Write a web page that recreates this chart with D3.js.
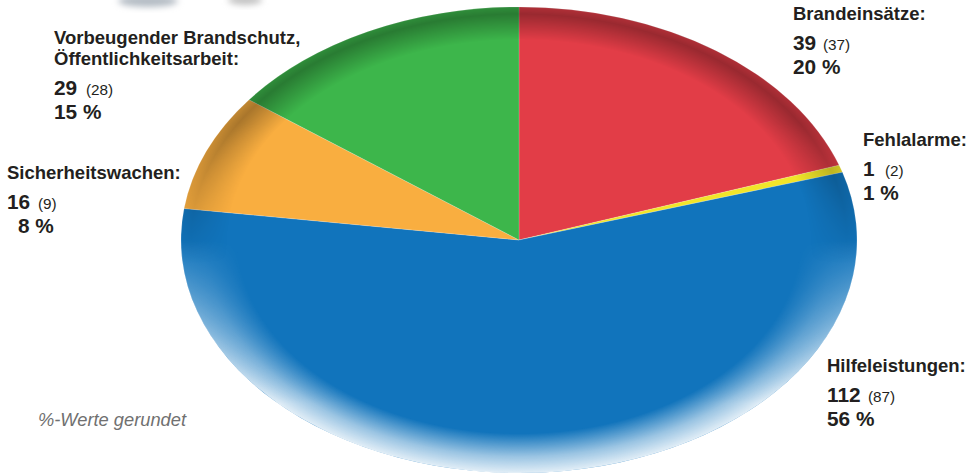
<!DOCTYPE html>
<html><head><meta charset="utf-8">
<script src="https://cdn.jsdelivr.net/npm/d3@7"></script>
<style>
html,body{margin:0;padding:0;background:#fff;}
svg{display:block;}
text{font-family:"Liberation Sans",Arial,Helvetica,sans-serif;}
</style></head>
<body>
<svg id="chart" width="978" height="473"></svg>
<script>
// ---- data ----
const categories = ["Brandeinsätze:", "Fehlalarme:", "Hilfeleistungen:", "Sicherheitswachen:", "Vorbeugender Brandschutz,|Öffentlichkeitsarbeit:"];
const values = [39, 1, 112, 16, 29];
const previous = [37, 2, 87, 9, 28];
const percents = ["20 %", "1 %", "56 %", "8 %", "15 %"];
const colors = ["#e23d47", "#f1e52a", "#1174bc", "#f9ae40", "#3db64b"];
const note = "%-Werte gerundet";

// ---- layout ----
const W = 978, H = 473;
const cx = 519, cy = 240, rx = 338, ry = 233;
const svg = d3.select("#chart");
const defs = svg.append("defs");

const blur = defs.append("filter").attr("id", "blur").attr("x", "-50%").attr("y", "-50%").attr("width", "200%").attr("height", "200%");
blur.append("feGaussianBlur").attr("stdDeviation", 3);

const dark = defs.append("radialGradient").attr("id", "darkRim");
dark.append("stop").attr("offset", 0.86).attr("stop-color", "#000").attr("stop-opacity", 0);
dark.append("stop").attr("offset", 0.97).attr("stop-color", "#000").attr("stop-opacity", 0.32);
dark.append("stop").attr("offset", 1).attr("stop-color", "#000").attr("stop-opacity", 0.22);

const light = defs.append("radialGradient").attr("id", "lightRim");
light.append("stop").attr("offset", 0.83).attr("stop-color", "#fff").attr("stop-opacity", 0);
light.append("stop").attr("offset", 0.93).attr("stop-color", "#fff").attr("stop-opacity", 0.58);
light.append("stop").attr("offset", 1).attr("stop-color", "#fff").attr("stop-opacity", 0.88);

const topMaskG = defs.append("linearGradient").attr("id", "topMaskG").attr("x1", 0).attr("y1", 0).attr("x2", 0).attr("y2", 1);
topMaskG.append("stop").attr("offset", 0).attr("stop-color", "#fff");
topMaskG.append("stop").attr("offset", 0.25).attr("stop-color", "#fff");
topMaskG.append("stop").attr("offset", 0.55).attr("stop-color", "#000");
const botMaskG = defs.append("linearGradient").attr("id", "botMaskG").attr("x1", 0).attr("y1", 0).attr("x2", 0).attr("y2", 1);
botMaskG.append("stop").attr("offset", 0.5).attr("stop-color", "#000");
botMaskG.append("stop").attr("offset", 0.85).attr("stop-color", "#fff");
botMaskG.append("stop").attr("offset", 1).attr("stop-color", "#fff");

defs.append("mask").attr("id", "topMask")
  .append("rect").attr("x", -rx).attr("y", -rx).attr("width", 2 * rx).attr("height", 2 * rx).attr("fill", "url(#topMaskG)");
defs.append("mask").attr("id", "botMask")
  .append("rect").attr("x", -rx).attr("y", -rx).attr("width", 2 * rx).attr("height", 2 * rx).attr("fill", "url(#botMaskG)");

// faint cut-off artwork at the top
svg.append("ellipse").attr("cx", 148).attr("cy", 1).attr("rx", 30).attr("ry", 6).attr("fill", "#b4bcc4").attr("filter", "url(#blur)");
svg.append("ellipse").attr("cx", 245).attr("cy", 0).attr("rx", 17).attr("ry", 5).attr("fill", "#c2c2c2").attr("filter", "url(#blur)");

// ---- pie ----
const pie = d3.pie().sort(null).value(d => d).startAngle(0).endAngle(2 * Math.PI);
const arc = d3.arc().innerRadius(0).outerRadius(rx);
const arcs = pie(values);

const g = svg.append("g").attr("transform", `translate(${cx},${cy}) scale(1,${ry / rx})`);
g.selectAll("path.slice").data(arcs).join("path")
  .attr("class", "slice")
  .attr("d", arc)
  .attr("fill", (d, i) => colors[i])
  .attr("stroke", "rgba(255,255,255,0.35)")
  .attr("stroke-width", 0.6);

g.append("circle").attr("r", rx).attr("fill", "url(#darkRim)").attr("mask", "url(#topMask)");
g.append("circle").attr("r", rx).attr("fill", "url(#lightRim)").attr("mask", "url(#botMask)");

// ---- labels ----
const labelPos = [
  {x: 793, y: 20},
  {x: 863, y: 146},
  {x: 827, y: 372},
  {x: 7, y: 179},
  {x: 54, y: 44}
];
const prevDx = [30, 22, 41, 31, 32];
const pctDx = [0, 0, 0, 11, 0];
const textColor = "#231f20";

labelPos.forEach((p, i) => {
  const lines = categories[i].split("|");
  const t = svg.append("g").attr("transform", `translate(${p.x},${p.y})`);
  lines.forEach((ln, k) => {
    t.append("text").attr("x", 0).attr("y", k * 21)
      .attr("font-size", 18.5).attr("font-weight", "bold").attr("fill", textColor).text(ln);
  });
  const base = (lines.length - 1) * 21;
  t.append("text").attr("x", 0).attr("y", base + 30)
    .attr("font-size", 20.8).attr("font-weight", "bold").attr("fill", textColor).text(values[i]);
  t.append("text").attr("x", prevDx[i]).attr("y", base + 30)
    .attr("font-size", 15.3).attr("fill", textColor).text(`(${previous[i]})`);
  t.append("text").attr("x", pctDx[i]).attr("y", base + 54)
    .attr("font-size", 20.8).attr("font-weight", "bold").attr("fill", textColor).text(percents[i]);
});

svg.append("text").attr("x", 38).attr("y", 426)
  .attr("font-size", 18.3).attr("font-style", "italic").attr("fill", "#707070").text(note);
</script>
</body></html>
